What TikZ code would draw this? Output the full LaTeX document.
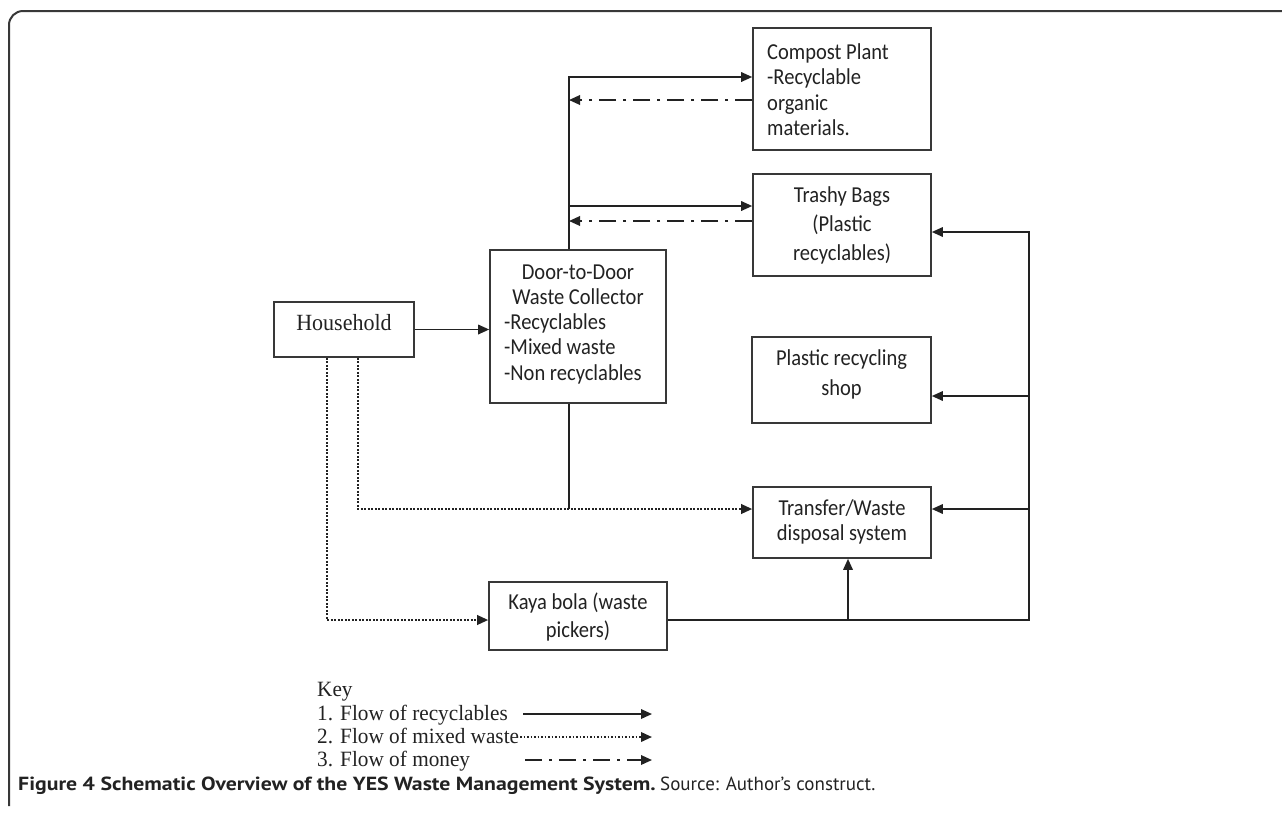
\documentclass[tikz,border=0pt]{standalone}
\usepackage{fontspec}
\usetikzlibrary{arrows.meta}
\newfontfamily\boxfont[FakeStretch=0.9]{Carlito}
\newfontfamily\serfont[FakeStretch=0.95]{Liberation Serif}
\newfontfamily\keyfont[FakeStretch=0.975]{Liberation Serif}
\newfontfamily\capfontB[FakeStretch=1.146]{PT Sans}
\newfontfamily\capfontR{PT Sans}
\definecolor{ink}{HTML}{222222}
\definecolor{boxline}{HTML}{383838}
\begin{document}
\begin{tikzpicture}[x=1pt,y=-1pt,
  box/.style={draw=boxline,line width=1.6pt,inner sep=0pt,fill=white},
  btext/.style={font=\boxfont\fontsize{22.8}{25.5}\selectfont,inner sep=0pt,text=ink},
  flow/.style={draw=ink,line width=1.7pt},
  tip/.style={-{Triangle[length=11pt,width=9.5pt]}},
  dotflow/.style={draw=ink,line width=2pt,dash pattern=on 1.7pt off 1.8pt},
  moneyflow/.style={draw=ink,line width=1.8pt,dash pattern=on 17pt off 7pt on 3pt off 7pt},
]
\useasboundingbox (0,0) rectangle (1282,815);
\fill[white] (0,0) rectangle (1282,815);
% frame
\draw[line width=2pt,draw=boxline,rounded corners=14pt] (9,806) -- (9,11) -- (1282,11);

% boxes
\node[box,minimum width=140pt,minimum height=55pt] (hh) at (344,329.5) {};
\node[box,minimum width=176pt,minimum height=153pt] (d2d) at (578,326.5) {};
\node[box,minimum width=178pt,minimum height=122pt] (compost) at (842,89) {};
\node[box,minimum width=178pt,minimum height=102pt] (trashy) at (842,225) {};
\node[box,minimum width=179pt,minimum height=86pt] (shop) at (841.5,380) {};
\node[box,minimum width=178pt,minimum height=71pt] (transfer) at (842,522.5) {};
\node[box,minimum width=178pt,minimum height=68pt] (kaya) at (578,616) {};

% texts
\node[font=\serfont\fontsize{23.2}{26}\selectfont,inner sep=0pt,text=ink,anchor=base] (hht) at (344,330.5) {Household};
\node[btext,align=center,anchor=center] (d2dt1) at (578,285) {Door-to-Door\\Waste Collector};
\node[btext,align=left,anchor=west] (d2dt2) at (504,348.5) {-Recyclables\\-Mixed waste\\-Non recyclables};
\node[btext,align=left,anchor=west] (compostt) at (767,89.5) {Compost Plant\\-Recyclable\\organic\\materials.};
\node[btext,align=center,font=\boxfont\fontsize{22.8}{29}\selectfont] (trashyt) at (842,225.5) {Trashy Bags\\(Plastic\\recyclables)};
\node[btext,align=center,font=\boxfont\fontsize{22.8}{30}\selectfont] (shopt) at (841.5,374.5) {Plastic recycling\\shop};
\node[btext,align=center,font=\boxfont\fontsize{22.8}{25}\selectfont] (transfert) at (842,521.5) {Transfer/Waste\\disposal system};
\node[btext,align=center,font=\boxfont\fontsize{22.8}{28}\selectfont] (kayat) at (578,617) {Kaya bola (waste\\pickers)};

% junction coordinates
\coordinate (tup) at (569,77);
\coordinate (tdown) at (569,509);
\coordinate (rtop) at (1029,232);
\coordinate (rbot) at (1029,620);
\coordinate (hhl) at (327,620);
\coordinate (hhr) at (358,509);
\coordinate (kup) at (848,620);

% solid flows
\draw[flow,tip] (hh.east) -- (d2d.west |- hh.east);
\draw[flow,tip] (d2d.north -| tup) -- (tup) -- (compost.west |- tup);
\draw[flow,tip] (d2d.north -| tup) |- ([yshift=19pt]trashy.west);
\draw[flow] (d2d.south -| tdown) -- (tdown);
\draw[flow,tip] (kaya.east |- rbot) -- (rbot) -- (rtop) -- ([yshift=-7pt]trashy.east);
\draw[flow,tip] (rbot |- 0,396) -- (shop.east |- 0,396);
\draw[flow,tip] (rbot |- tdown) -- (transfer.east |- tdown);
\draw[flow,tip] (kup) -- (transfer.south -| kup);

% money flows
\draw[moneyflow,tip] (compost.west |- 0,100) -- (tup |- 0,100);
\draw[moneyflow,tip] (trashy.west |- 0,221) -- (tup |- 0,221);

% mixed waste flows
\draw[dotflow,tip] (hh.south -| hhr) -- (hhr) -- (transfer.west |- hhr);
\draw[dotflow,tip] (hh.south -| hhl) -- (hhl) -- (kaya.west |- hhl);

% key
\node[font=\keyfont\fontsize{21.8}{23.4}\selectfont,align=left,anchor=west,inner sep=0pt,text=ink] (key) at (317,727) {Key\\1. Flow of recyclables\\2. Flow of mixed waste\\3. Flow of money};
\coordinate (k1a) at (523,714); \coordinate (k1b) at (652,714);
\coordinate (k2a) at (520,737); \coordinate (k2b) at (652,737);
\coordinate (k3a) at (525,760); \coordinate (k3b) at (652,760);
\draw[flow,tip] (k1a) -- (k1b);
\draw[dotflow,tip] (k2a) -- (k2b);
\draw[moneyflow,tip] (k3a) -- (k3b);

% caption
\node[anchor=west,inner sep=0pt,text=ink] (cap) at (18,786) {{\capfontB\fontsize{19}{21}\selectfont\bfseries Figure 4 Schematic Overview of the YES Waste Management System.} {\capfontR\fontsize{19}{21}\selectfont Source: Author’s construct.}};
\end{tikzpicture}
\end{document}
